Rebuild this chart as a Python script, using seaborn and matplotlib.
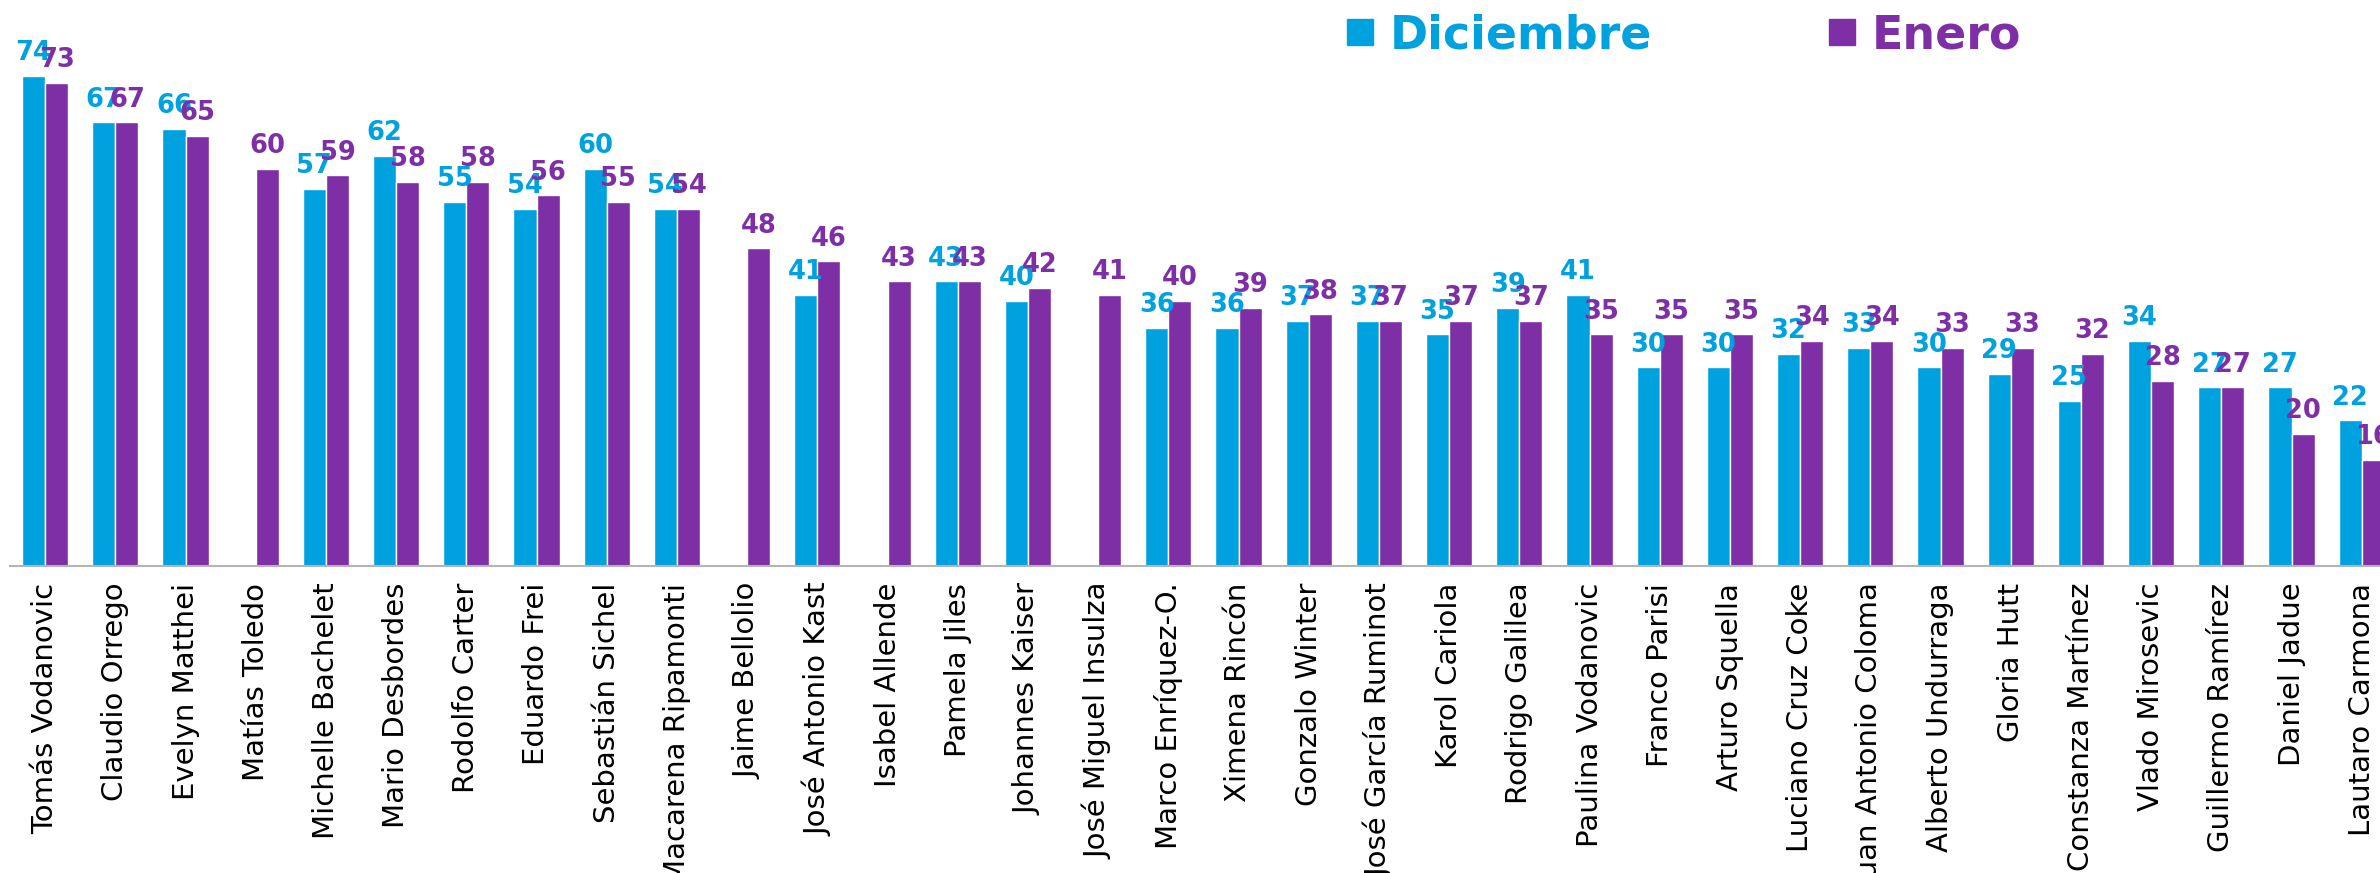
import numpy as np
import pandas as pd
import matplotlib
matplotlib.use('Agg')
import matplotlib.pyplot as plt
from matplotlib.lines import Line2D
import seaborn as sns

nombres = ['Tomás Vodanovic', 'Claudio Orrego', 'Evelyn Matthei', 'Matías Toledo',
           'Michelle Bachelet', 'Mario Desbordes', 'Rodolfo Carter', 'Eduardo Frei',
           'Sebastián Sichel', 'Macarena Ripamonti', 'Jaime Bellolio', 'José Antonio Kast',
           'Isabel Allende', 'Pamela Jiles', 'Johannes Kaiser', 'José Miguel Insulza',
           'Marco Enríquez-O.', 'Ximena Rincón', 'Gonzalo Winter', 'José García Ruminot',
           'Karol Cariola', 'Rodrigo Galilea', 'Paulina Vodanovic', 'Franco Parisi',
           'Arturo Squella', 'Luciano Cruz Coke', 'Juan Antonio Coloma', 'Alberto Undurraga',
           'Gloria Hutt', 'Constanza Martínez', 'Vlado Mirosevic', 'Guillermo Ramírez',
           'Daniel Jadue', 'Lautaro Carmona']
nan = np.nan
diciembre = [74, 67, 66, nan, 57, 62, 55, 54, 60, 54, nan, 41, nan, 43, 40, nan, 36, 36,
             37, 37, 35, 39, 41, 30, 30, 32, 33, 30, 29, 25, 34, 27, 27, 22]
enero = [73, 67, 65, 60, 59, 58, 58, 56, 55, 54, 48, 46, 43, 43, 42, 41, 40, 39,
         38, 37, 37, 37, 35, 35, 35, 34, 34, 33, 33, 32, 28, 27, 20, 16]
meses = ['Diciembre', 'Enero']
colores = ['#00a1df', '#7e2fa5']

df = pd.DataFrame({'nombre': nombres * 2,
                   'mes': ['Diciembre'] * len(nombres) + ['Enero'] * len(nombres),
                   'valor': diciembre + enero})

sns.set_style('white')
plt.rcParams['font.family'] = ['DejaVu Sans']

W, H = 2380, 873
fig = plt.figure(figsize=(W / 100, H / 100), dpi=100)
cat_w = 70.2
ax = fig.add_axes([10 / W, 307 / H, 34 * cat_w / W, 1 - 307 / H])

sns.barplot(data=df, x='nombre', y='valor', hue='mes', hue_order=meses,
            palette=colores, width=0.66, gap=0, saturation=1, legend=False, ax=ax)

ax.set_ylim(0, 85.5)
ax.set_xlim(-0.5, len(nombres) - 0.5)

# etiquetas de valor, vacias donde no hay dato
for cont, col in zip(ax.containers, colores):
    labels = ['' if np.isnan(v) else f'{v:.0f}' for v in cont.datavalues]
    ax.bar_label(cont, labels=labels, padding=7, color=col,
                 fontsize=18.5, fontweight='bold')

ax.set_xlabel('')
ax.set_ylabel('')
ax.set_yticks([])
for s in ['top', 'right', 'left']:
    ax.spines[s].set_visible(False)
ax.spines['bottom'].set_color('#b4b4b4')
ax.spines['bottom'].set_linewidth(1.5)

ax.set_xticks(range(len(nombres)))
ax.set_xticklabels(nombres, rotation=90, fontsize=21, color='black')
ax.tick_params(axis='x', which='major', length=0, pad=12)
ax.set_xticks(np.arange(-0.5, len(nombres), 1), minor=True)
ax.tick_params(axis='x', which='minor', length=9, width=1.5, color='#b4b4b4')

handles = [Line2D([], [], marker='s', linestyle='', markersize=19, color=c) for c in colores]
leg = fig.legend(handles, meses, loc='center left', bbox_to_anchor=(1305 / W, 1 - 36 / H),
                 ncol=2, frameon=False, handlelength=0.6, handletextpad=0.35,
                 columnspacing=3.85, prop={'size': 33, 'weight': 'bold'})
for t, c in zip(leg.get_texts(), colores):
    t.set_color(c)

fig.savefig('out.png', dpi=100)
